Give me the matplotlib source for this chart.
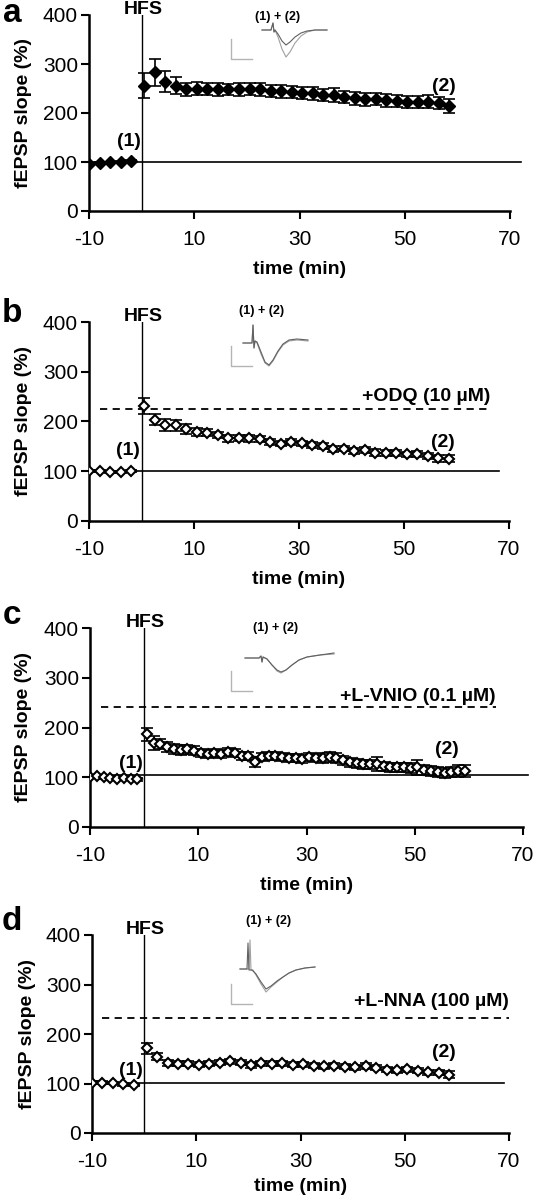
import matplotlib
matplotlib.use("Agg")
import matplotlib.pyplot as plt

plt.rcParams["font.family"] = ["Liberation Sans", "DejaVu Sans"]
plt.rcParams["axes.unicode_minus"] = False

# ---- data ----
PRE_T = [-10, -8, -6, -4, -2]
POST_T = [0.5, 2.5, 4.5, 6.5, 8.5, 10.5, 12.5, 14.5, 16.5, 18.5,
          20.5, 22.5, 24.5, 26.5, 28.5, 30.5, 32.5, 34.5, 36.5, 38.5,
          40.5, 42.5, 44.5, 46.5, 48.5, 50.5, 52.5, 54.5, 56.5, 58.5]
PRE_T_C = [-10, -8.75, -7.5, -6.25, -5, -3.75, -2.5, -1.25]
POST_T_C = [0.5, 1.75, 3.0, 4.25, 5.5, 6.75, 8.0, 9.25, 10.5, 11.75,
            13.0, 14.25, 15.5, 16.75, 18.0, 19.25, 20.5, 21.75, 23.0, 24.25,
            25.5, 26.75, 28.0, 29.25, 30.5, 31.75, 33.0, 34.25, 35.5, 36.75,
            38.0, 39.25, 40.5, 41.75, 43.0, 44.25, 45.5, 46.75, 48.0, 49.25,
            50.5, 51.75, 53.0, 54.25, 55.5, 56.75, 58.0, 59.25]

a_pre = [96, 97, 99, 101, 102]
a_pre_err = [2, 2, 2, 2, 2]
a_post = [256, 283, 264, 256, 248, 250, 249, 248, 248, 248,
          249, 248, 245, 244, 243, 241, 240, 237, 237, 232,
          230, 228, 228, 226, 224, 222, 223, 223, 220, 214]
a_post_err = [25, 27, 22, 18, 14, 13, 13, 13, 12, 13,
              13, 13, 12, 13, 12, 13, 13, 13, 14, 12,
              13, 13, 12, 13, 12, 12, 12, 13, 12, 14]

b_pre = [100, 101, 99, 99, 100]
b_pre_err = [2, 2, 2, 2, 2]
b_post = [231, 204, 193, 192, 184, 178, 177, 173, 166, 166,
          166, 164, 158, 155, 158, 156, 153, 151, 144, 145,
          141, 143, 137, 137, 136, 134, 134, 131, 126, 125]
b_post_err = [16, 12, 12, 11, 10, 8, 7, 6, 7, 6,
              7, 6, 6, 5, 6, 5, 6, 6, 6, 5,
              6, 6, 7, 6, 6, 5, 6, 6, 7, 7]

c_pre = [101, 102, 100, 99, 97, 98, 97, 96]
c_pre_err = [3, 3, 3, 3, 3, 3, 3, 3]
c_post = [186, 168, 166, 160, 157, 155, 156, 153, 148, 147,
          148, 146, 150, 148, 143, 142, 131, 140, 142, 142,
          140, 138, 138, 137, 140, 139, 138, 140, 138, 134,
          130, 128, 126, 126, 126, 122, 120, 120, 120, 118,
          120, 115, 112, 110, 108, 110, 112, 113]
c_post_err = [14, 14, 10, 10, 10, 10, 9, 9, 8, 8,
              8, 8, 8, 8, 8, 8, 10, 8, 8, 8,
              8, 8, 8, 8, 8, 8, 10, 10, 10, 9,
              9, 9, 9, 9, 14, 9, 9, 9, 9, 10,
              15, 10, 10, 10, 10, 10, 12, 12]

d_pre = [102, 102, 101, 98, 97]
d_pre_err = [3, 3, 3, 3, 3]
d_post = [171, 154, 142, 140, 140, 138, 140, 142, 145, 142,
          137, 141, 140, 141, 138, 139, 136, 135, 136, 134,
          133, 135, 132, 128, 127, 129, 126, 123, 122, 118]
d_post_err = [11, 7, 6, 5, 5, 5, 5, 5, 5, 5,
              6, 5, 5, 5, 5, 5, 5, 5, 5, 5,
              5, 6, 5, 5, 5, 5, 5, 5, 5, 7]

# drug lines (level, label) and baseline level per panel
drug_level = [None, 226, 241, 233]
drug_label = [None, "+ODQ (10 µM)", "+L-VNIO (0.1 µM)", "+L-NNA (100 µM)"]
base_level = [100, 100, 104, 102]

# example traces, in inset pixel units (y downwards)
trace_a_t = [37, 46, 48, 49, 50, 53, 57, 61, 65, 70, 76, 82, 90, 102]
trace_a_1 = [15, 15, 8, 17, 15, 19, 26, 30, 27, 22, 18, 16, 15, 15]
trace_a_2 = [15, 15, 8, 17, 15, 22, 34, 42, 37, 28, 21, 17, 15, 15]
trace_b_t = [18, 27, 28, 29, 30, 32, 36, 40, 44, 48, 53, 58, 64, 72, 83]
trace_b_1 = [23, 23, 5, 28, 21, 22, 32, 42, 45, 40, 31, 24, 20, 19, 20]
trace_b_2 = [23, 23, 5, 28, 21, 23, 34, 43, 46, 41, 32, 25, 21, 20, 21]
trace_c_t = [20, 34, 36, 37, 38, 42, 47, 52, 56, 61, 67, 74, 82, 95, 109]
trace_c_1 = [18, 18, 16, 22, 17, 19, 25, 30, 32, 30, 25, 20, 17, 15, 13]
trace_c_2 = [18, 18, 16, 22, 17, 19, 25, 31, 33, 30, 25, 20, 17, 15, 14]
trace_d_t1 = [15, 22, 23, 24, 27, 31, 36, 41, 46, 52, 58, 64, 71, 80, 90]
trace_d_t2 = [15, 24, 25, 26, 28, 31, 36, 41, 46, 52, 58, 64, 71, 80, 90]
trace_d_1 = [41, 41, 15, 42, 42, 46, 54, 61, 58, 53, 49, 45, 42, 40, 39]
trace_d_2 = [41, 41, 12, 42, 42, 47, 56, 64, 59, 54, 49, 45, 42, 40, 39]

W, H = 534, 1200


def frac(x0, top, x1, bottom):
    return [x0 / W, 1 - bottom / H, (x1 - x0) / W, (bottom - top) / H]


fig = plt.figure(figsize=(W / 100, H / 100), dpi=100)

panels = [
    (frac(89, 15, 510, 211), PRE_T, a_pre, a_pre_err, POST_T, a_post, a_post_err, True),
    (frac(89, 322, 509, 521), PRE_T, b_pre, b_pre_err, POST_T, b_post, b_post_err, False),
    (frac(90, 628, 523, 827), PRE_T_C, c_pre, c_pre_err, POST_T_C, c_post, c_post_err, False),
    (frac(92, 935, 509, 1133), PRE_T, d_pre, d_pre_err, POST_T, d_post, d_post_err, False),
]
line_end = [72, 68, 71, 69]
xlabel_pad = [8, 8, 8, 5]
one_pos = [(-2.5, 142), (-2.5, 141), (-2.5, 128), (-2.5, 126)]
two_pos = [(57.5, 255), (57.5, 158), (56, 156), (57.5, 163)]
label_pos = [None, (66.5, 251), (65, 263), (70, 266)]

for i, (rect, t0, y0, e0, t1, y1, e1, filled) in enumerate(panels):
    ax = fig.add_axes(rect)
    ax.set_xlim(-10, 70)
    ax.set_ylim(0, 400)
    for s in ("top", "right"):
        ax.spines[s].set_visible(False)
    for s in ("left", "bottom"):
        ax.spines[s].set_linewidth(1.8)
    ax.set_xticks([-10, 10, 30, 50, 70])
    ax.set_yticks([0, 100, 200, 300, 400])
    ax.tick_params(direction="out", length=6, width=1.5, labelsize=15, pad=2)
    ax.tick_params(axis="x", pad=8)
    ax.set_ylabel("fEPSP slope (%)", fontsize=14, fontweight="bold")
    ax.yaxis.set_label_coords(-0.135, 0.5)
    ax.set_xlabel("time (min)", fontsize=14, fontweight="bold",
                  labelpad=xlabel_pad[i])

    ax.plot([-10, line_end[i]], [base_level[i]] * 2, color="k", lw=1.2,
            clip_on=False, zorder=1)
    ax.plot([0, 0], [0, 400], color="k", lw=1.0, zorder=1)
    ax.text(0.3, 412, "HFS", ha="center", va="center", fontsize=14,
            fontweight="bold", clip_on=False)
    if drug_level[i] is not None:
        ax.plot([-8, label_pos[i][0]], [drug_level[i]] * 2, color="k", lw=1.3,
                linestyle=(0, (4, 3)))
        ax.text(label_pos[i][0], label_pos[i][1], drug_label[i], ha="right",
                va="center", fontsize=14, fontweight="bold")

    for tt, yy, ee in ((t0, y0, e0), (t1, y1, e1)):
        ax.errorbar(tt, yy, yerr=ee, fmt="none", ecolor="k", elinewidth=1.2,
                    capsize=4.5, capthick=1.2, zorder=2)
        if filled:
            ax.plot(tt, yy, "D", color="k", ms=6.5, zorder=3, linestyle="none")
        else:
            ax.plot(tt, yy, "D", mfc="white", mec="k", mew=1.5, ms=5,
                    zorder=3, linestyle="none")

    ax.text(one_pos[i][0], one_pos[i][1], "(1)", ha="center", va="center",
            fontsize=14, fontweight="bold")
    ax.text(two_pos[i][0], two_pos[i][1], "(2)", ha="center", va="center",
            fontsize=14, fontweight="bold")

# panel letters
for letter, y in zip("abcd", [14, 314, 616, 922]):
    fig.text(12 / W, 1 - y / H, letter, fontsize=24, fontweight="bold",
             ha="center", va="center")

# insets with example traces
insets = [
    (15, trace_a_t, trace_a_1, trace_a_t, trace_a_2, 24, (278, 17)),
    (320, trace_b_t, trace_b_1, trace_b_t, trace_b_2, 26, (262, 311)),
    (640, trace_c_t, trace_c_1, trace_c_t, trace_c_2, 31, (276, 628)),
    (928, trace_d_t1, trace_d_1, trace_d_t2, trace_d_2, 56, (269, 921)),
]
for top, ta, va_, tb, vb, bar_top, txt in insets:
    iax = fig.add_axes(frac(225, top, 340, top + 80))
    iax.set_xlim(0, 115)
    iax.set_ylim(80, 0)
    iax.axis("off")
    iax.plot(tb, vb, color="#a0a0a0", lw=0.8)
    iax.plot(ta, va_, color="#606060", lw=0.8)
    iax.plot([6, 6, 27], [bar_top, bar_top + 20, bar_top + 20], color="#b4b4b4",
             lw=1.0)
    fig.text(txt[0] / W, 1 - txt[1] / H, "(1) + (2)", fontsize=9,
             fontweight="bold", ha="center", va="center")

fig.savefig("out.png", dpi=100)
